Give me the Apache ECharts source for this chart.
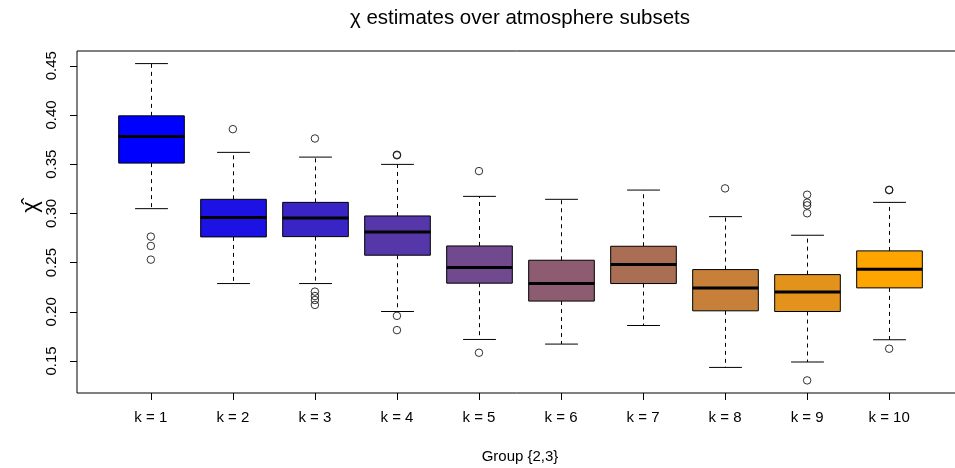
<!DOCTYPE html>
<html>
<head>
<meta charset="utf-8">
<script src="https://cdn.jsdelivr.net/npm/echarts@6/dist/echarts.min.js"></script>
<style>
html,body{margin:0;padding:0;background:#fff;}
#chart{width:955px;height:468px;}
</style>
</head>
<body>
<div id="chart"></div>
<script>
const categories = ['k = 1','k = 2','k = 3','k = 4','k = 5','k = 6','k = 7','k = 8','k = 9','k = 10'];
const whiskerLow  = [0.3048, 0.2287, 0.2287, 0.2003, 0.1719, 0.1672, 0.1861, 0.1435, 0.1490, 0.1716];
const q1          = [0.3511, 0.2761, 0.2764, 0.2575, 0.2291, 0.2109, 0.2287, 0.2010, 0.2003, 0.2243];
const median      = [0.3782, 0.2957, 0.2953, 0.2811, 0.2449, 0.2287, 0.2480, 0.2243, 0.2200, 0.2433];
const q3          = [0.3991, 0.3143, 0.3112, 0.2974, 0.2669, 0.2524, 0.2666, 0.2429, 0.2378, 0.2619];
const whiskerHigh = [0.4522, 0.3620, 0.3572, 0.3498, 0.3173, 0.3143, 0.3237, 0.2967, 0.2778, 0.3112];
const outliers = [
  [0.2764, 0.2669, 0.2530],
  [0.3856],
  [0.3761, 0.2205, 0.2160, 0.2120, 0.2070],
  [0.3596, 0.3590, 0.1959, 0.1814],
  [0.3430, 0.1584],
  [],
  [],
  [0.3254],
  [0.3190, 0.3109, 0.3082, 0.3001, 0.1303],
  [0.3240, 0.3236, 0.1625]
];
const yTicks = [0.15, 0.20, 0.25, 0.30, 0.35, 0.40, 0.45];
const palette = ['#0000FF','#1C12E3','#3925C6','#5537AA','#71498E','#8E5C71','#AA6E55','#C68039','#E3931C','#FFA500'];

const xPos = categories.map((c, i) => i + 1);
const boxData = categories.map((c, i) => [xPos[i], whiskerLow[i], q1[i], median[i], q3[i], whiskerHigh[i]]);
const outlierData = [];
outliers.forEach((arr, i) => arr.forEach(v => outlierData.push([xPos[i], v])));

const FONT = '"Liberation Sans", Arial, Helvetica, sans-serif';

function renderBox(params, api) {
  const x = api.value(0);
  const lo = api.coord([x, api.value(1)]);
  const a = api.coord([x, api.value(2)]);
  const m = api.coord([x, api.value(3)]);
  const b = api.coord([x, api.value(4)]);
  const hi = api.coord([x, api.value(5)]);
  const cx = Math.round(m[0]) + 0.5;
  const half = api.size([0.8, 0])[0] / 2;
  const st = half / 2;
  const col = palette[params.dataIndex];
  const thin = {stroke: '#000', lineWidth: 1};
  return {
    type: 'group',
    children: [
      {type: 'line', shape: {x1: cx, y1: b[1], x2: cx, y2: hi[1]}, style: {stroke: '#000', lineWidth: 1, lineDash: [4, 4]}},
      {type: 'line', shape: {x1: cx, y1: a[1], x2: cx, y2: lo[1]}, style: {stroke: '#000', lineWidth: 1, lineDash: [4, 4]}},
      {type: 'line', shape: {x1: cx - st, y1: hi[1], x2: cx + st, y2: hi[1]}, style: thin},
      {type: 'line', shape: {x1: cx - st, y1: lo[1], x2: cx + st, y2: lo[1]}, style: thin},
      {type: 'rect', shape: {x: cx - half, y: b[1], width: 2 * half, height: a[1] - b[1]}, style: {fill: col, stroke: '#000', lineWidth: 1}},
      {type: 'line', shape: {x1: cx - half, y1: m[1], x2: cx + half, y2: m[1]}, style: {stroke: '#000', lineWidth: 3}}
    ]
  };
}

const chart = echarts.init(document.getElementById('chart'), null, {renderer: 'canvas'});
chart.setOption({
  animation: false,
  backgroundColor: '#fff',
  textStyle: {fontFamily: FONT},
  grid: {left: 77, top: 51, width: 886, height: 342, show: true, borderColor: '#000', borderWidth: 1, backgroundColor: 'transparent', outerBoundsMode: 'none'},
  xAxis: {
    type: 'value', min: 0.1, max: 10.9,
    splitLine: {show: false},
    axisLine: {show: false},
    axisTick: {show: true, length: 7, lineStyle: {color: '#000'}, customValues: xPos},
    axisLabel: {show: true, customValues: xPos, formatter: v => categories[Math.round(v) - 1] || '', fontSize: 15, color: '#000', margin: 17, fontFamily: FONT},
    name: 'Group {2,3}', nameLocation: 'middle', nameGap: 56,
    nameTextStyle: {fontSize: 15, color: '#000', fontFamily: FONT}
  },
  yAxis: {
    type: 'value', min: 0.1175, max: 0.4650,
    splitLine: {show: false},
    axisLine: {show: false},
    axisTick: {show: true, length: 7, lineStyle: {color: '#000'}, customValues: yTicks},
    axisLabel: {show: true, customValues: yTicks, rotate: 90, formatter: v => v.toFixed(2), fontSize: 15, color: '#000', margin: 18, fontFamily: FONT}
  },
  graphic: [
    {type: 'text', x: 520, y: 18, style: {text: 'χ estimates over atmosphere subsets', font: '20.5px ' + FONT, fill: '#000', align: 'center', verticalAlign: 'middle'}},
    {type: 'text', x: 31, y: 207, rotation: Math.PI / 2, style: {text: 'χ\u0302', font: '22px ' + FONT, fill: '#000', align: 'center', verticalAlign: 'middle'}}
  ],
  series: [
    {type: 'custom', renderItem: renderBox, data: boxData, encode: {x: 0, y: [1, 2, 3, 4, 5]}, clip: false, z: 2},
    {type: 'scatter', data: outlierData, symbol: 'circle', symbolSize: 7.5, itemStyle: {color: 'rgba(0,0,0,0)', borderColor: '#000', borderWidth: 1}, z: 3}
  ]
});
</script>
</body>
</html>
